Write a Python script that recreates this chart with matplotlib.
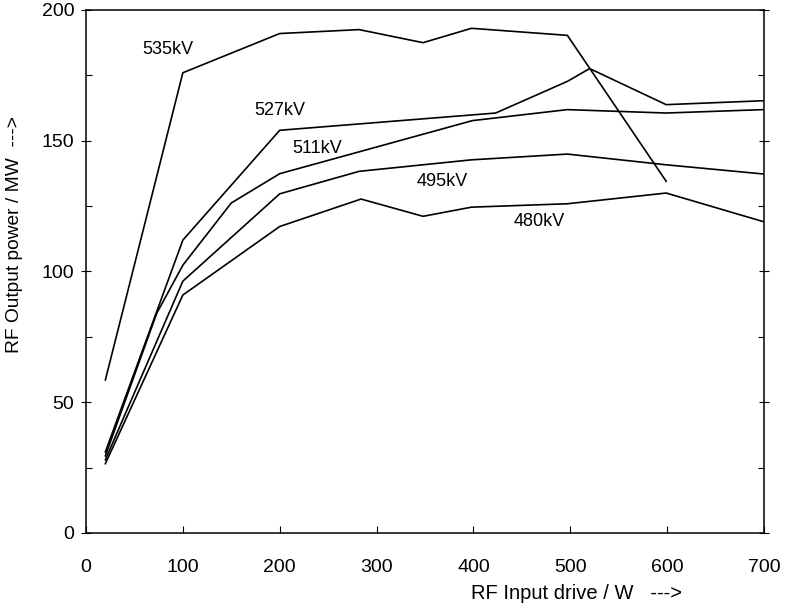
import matplotlib
matplotlib.use("Agg")
from matplotlib import pyplot as plt
from matplotlib.ticker import MultipleLocator

# RF output vs drive power, one curve per beam voltage
drive_535 = [20, 100, 200, 282, 348, 398, 497, 599]
power_535 = [58.5, 176, 191, 192.5, 187.5, 193, 190.3, 134.5]

drive_527 = [20, 100, 200, 423, 497, 520, 599, 699]
power_527 = [31, 112, 154, 160.6, 172.7, 177.6, 163.8, 165.3]

drive_511 = [20, 73, 100, 150, 200, 399, 497, 599, 699]
power_511 = [29.5, 84, 102.4, 126.2, 137.4, 157.7, 161.9, 160.6, 161.9]

drive_495 = [20, 100, 200, 282, 398, 497, 599, 699]
power_495 = [28, 96.3, 129.7, 138.3, 142.7, 144.9, 140.8, 137.3]

drive_480 = [20, 100, 200, 284, 348, 398, 497, 599, 699]
power_480 = [26.5, 91, 117.2, 127.7, 121.1, 124.6, 125.9, 130, 119.1]

curves = [
	("535kV", drive_535, power_535, (85, 185)),
	("527kV", drive_527, power_527, (200, 161.5)),
	("511kV", drive_511, power_511, (239, 147)),
	("495kV", drive_495, power_495, (368, 134.5)),
	("480kV", drive_480, power_480, (468, 119)),
]

plt.rcParams["font.family"] = ["Liberation Sans", "DejaVu Sans"]

fig = plt.figure(figsize=(7.86, 6.06), dpi=100)
ax = fig.add_axes([0.1094, 0.1205, 0.8626, 0.863])

for name, xs, ys, (lx, ly) in curves:
	ax.plot(xs, ys, color="black", lw=1.2)
	ax.text(lx, ly, name, fontsize=13, ha="center", va="center")

ax.set_xlim(0, 700)
ax.set_ylim(0, 200)

ax.xaxis.set_major_locator(MultipleLocator(100))
ax.yaxis.set_major_locator(MultipleLocator(50))
ax.yaxis.set_minor_locator(MultipleLocator(25))

ax.tick_params(axis="x", which="major", direction="in", length=5, width=0.8,
			   labelsize=14, pad=19, top=False)
ax.tick_params(axis="y", which="major", direction="inout", length=7, width=0.8,
			   labelsize=14, pad=5, right=True)
ax.tick_params(axis="y", which="minor", direction="in", length=4, width=0.8,
			   right=True)

for sp in ax.spines.values():
	sp.set_linewidth(1.1)

ax.set_xlabel("RF Input drive / W   --->", fontsize=14.5)
ax.xaxis.set_label_coords(0.723, -0.098)
ax.set_ylabel("RF Output power / MW  --->", fontsize=13.8)
ax.yaxis.set_label_coords(-0.093, 0.57)

fig.savefig("out.png", dpi=100)
